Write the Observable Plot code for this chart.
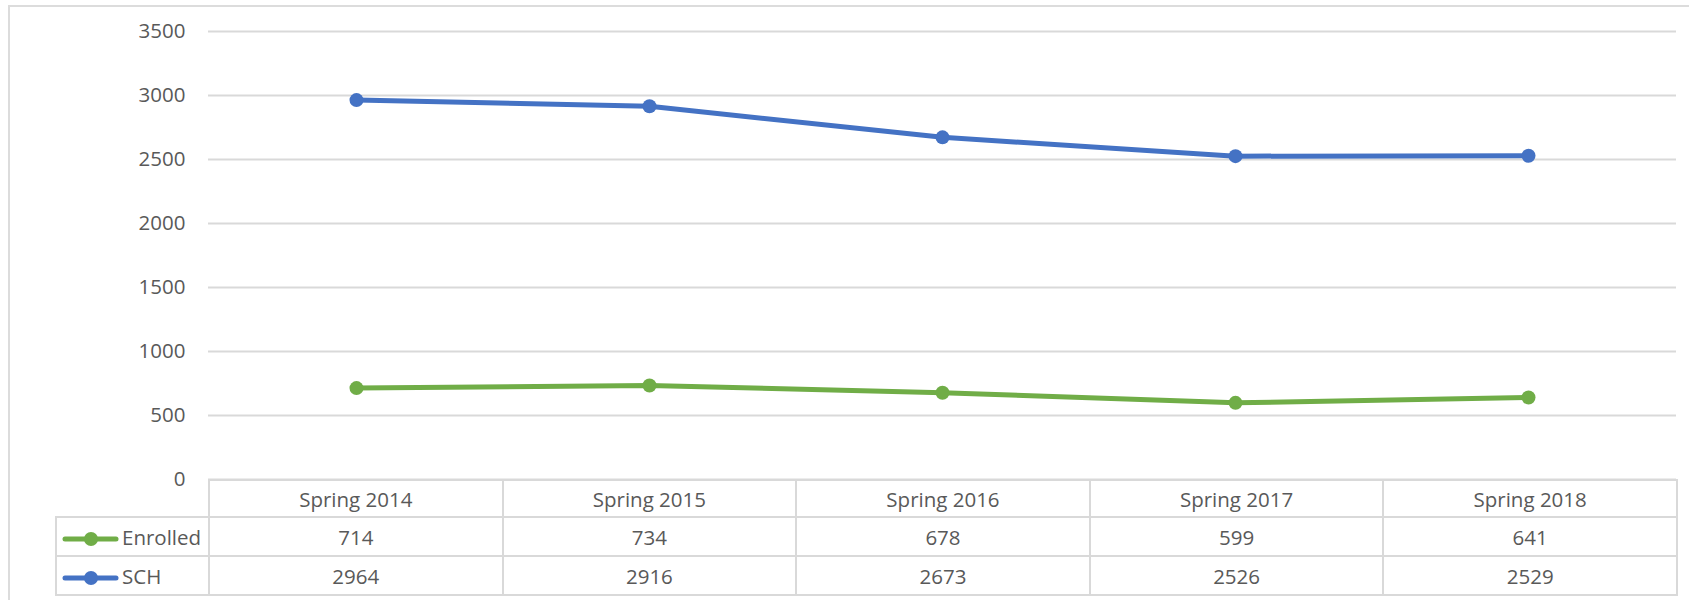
<!DOCTYPE html>
<html>
<head>
<meta charset="utf-8">
<script src="https://cdn.jsdelivr.net/npm/d3@7"></script>
<script src="https://cdn.jsdelivr.net/npm/@observablehq/plot@0.6"></script>
<style>
  html, body { margin: 0; padding: 0; background: #fff; overflow: hidden; }
  body { width: 1689px; height: 600px; position: relative; font-family: "Open Sans", sans-serif; color: #595959; }
  #frame { position: absolute; left: 8px; top: 5px; width: 1700px; height: 700px; border: 2px solid #dcdcdc; box-sizing: border-box; }
  #chart { position: absolute; left: 0; top: 0; }
  #tbl { position: absolute; left: 55px; top: 479px; border-collapse: collapse; font-size: 20.5px; table-layout: fixed; }
  #tbl td { border: 2px solid #d9d9d9; text-align: center; padding: 0; white-space: nowrap; }
  #tbl tr.h td { height: 35px; }
  #tbl tr.r td { height: 37px; }
  #tbl td.corner { border-top: hidden; border-left: hidden; }
  #tbl td.leg { text-align: left; padding-left: 5px; }
  #tbl td.leg svg { vertical-align: middle; margin-right: 3px; }
</style>
</head>
<body>
<div id="frame"></div>
<div id="chart"></div>
<table id="tbl"></table>
<script>
const seasons = ["Spring 2014", "Spring 2015", "Spring 2016", "Spring 2017", "Spring 2018"];
const enrolled = [714, 734, 678, 599, 641];
const sch = [2964, 2916, 2673, 2526, 2529];
const seriesNames = ["Enrolled", "SCH"];
const seriesColors = ["#70AD47", "#4472C4"];
const yTicks = [0, 500, 1000, 1500, 2000, 2500, 3000, 3500];

const seriesValues = [enrolled, sch];
const rows = seriesNames.flatMap((name, k) =>
  seasons.map((s, i) => ({season: s, value: seriesValues[k][i], series: name}))
);

const W = 1689;
const chart = Plot.plot({
  width: W,
  height: 482,
  marginLeft: 208,
  marginRight: 13,
  marginTop: 31,
  marginBottom: 3,
  style: {fontFamily: "'Open Sans', sans-serif", fontSize: "20.5px", color: "#595959", background: "transparent", overflow: "visible"},
  x: {type: "point", domain: seasons, padding: 0.5, axis: null},
  y: {domain: [0, 3500], axis: null},
  marks: [
    Plot.gridY(yTicks, {stroke: "#d9d9d9", strokeOpacity: 1, strokeWidth: 2}),
    Plot.axisY(yTicks, {tickSize: 0, tickPadding: 23, label: null, fill: "#595959", fontSize: 20.5, tickFormat: d => String(d)}),
    ...seriesNames.map((name, k) =>
      Plot.line(rows.filter(d => d.series === name), {x: "season", y: "value", stroke: seriesColors[k], strokeWidth: 5, strokeLinecap: "round", strokeLinejoin: "round"})
    ),
    ...seriesNames.map((name, k) =>
      Plot.dot(rows.filter(d => d.series === name), {x: "season", y: "value", r: 7, fill: seriesColors[k], stroke: "none"})
    )
  ]
});
document.getElementById("chart").appendChild(chart);

// data table below the chart (acts as x axis + legend)
const tbl = document.getElementById("tbl");
const colg = document.createElement("colgroup");
const firstW = 153;
const colW = (1676 - 208) / seasons.length;
[firstW, ...seasons.map(() => colW)].forEach(w => {
  const c = document.createElement("col");
  c.style.width = w + "px";
  colg.appendChild(c);
});
tbl.appendChild(colg);
tbl.style.width = (firstW + colW * seasons.length) + "px";

const hr = document.createElement("tr");
hr.className = "h";
const corner = document.createElement("td");
corner.className = "corner";
hr.appendChild(corner);
seasons.forEach(s => {
  const td = document.createElement("td");
  td.textContent = s;
  hr.appendChild(td);
});
tbl.appendChild(hr);

seriesNames.forEach((name, k) => {
  const tr = document.createElement("tr");
  tr.className = "r";
  const lt = document.createElement("td");
  lt.className = "leg";
  const color = seriesColors[k];
  lt.innerHTML = `<svg width="57" height="16"><line x1="3" y1="8" x2="54" y2="8" stroke="${color}" stroke-width="5" stroke-linecap="round"/><circle cx="29" cy="8" r="7" fill="${color}"/></svg>`;
  lt.appendChild(document.createTextNode(name));
  tr.appendChild(lt);
  seriesValues[k].forEach(v => {
    const td = document.createElement("td");
    td.textContent = v;
    tr.appendChild(td);
  });
  tbl.appendChild(tr);
});
</script>
</body>
</html>
